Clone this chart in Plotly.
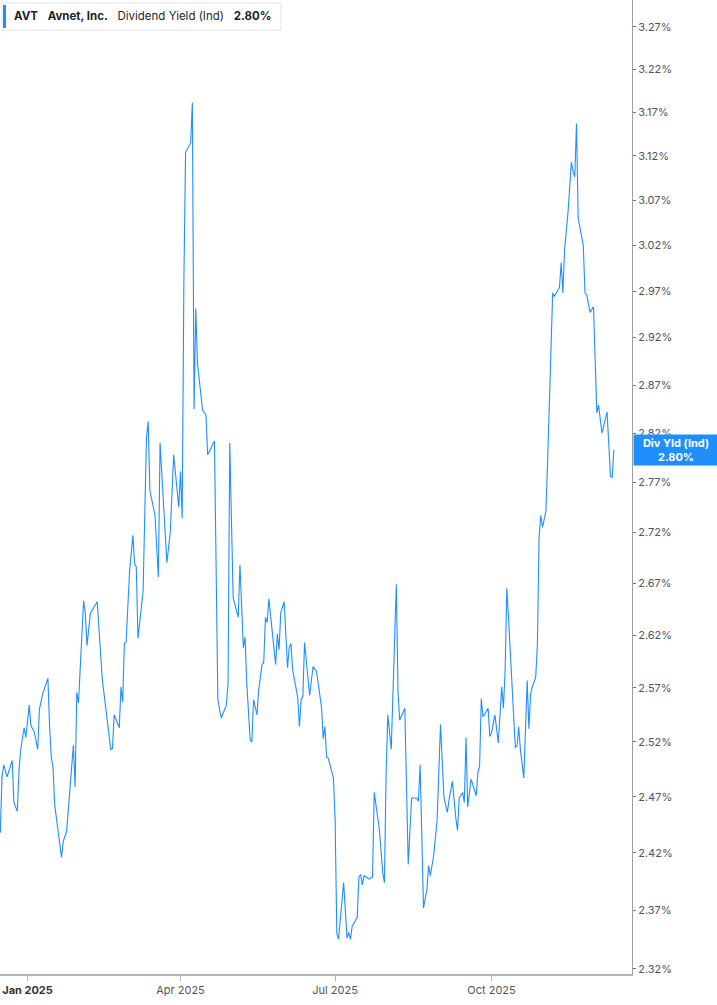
"""AVT dividend yield (indicated) line chart."""

import math
import plotly.graph_objects as go

# trading dates
dates = [
    # Dec 2024
    "2024-12-16", "2024-12-17", "2024-12-18", "2024-12-20", "2024-12-23",
    "2024-12-24", "2024-12-26", "2024-12-27", "2024-12-28", "2024-12-30",
    "2024-12-31",
    # Jan 2025
    "2025-01-02", "2025-01-03", "2025-01-05", "2025-01-07", "2025-01-08",
    "2025-01-10", "2025-01-13", "2025-01-14", "2025-01-15", "2025-01-16",
    "2025-01-17", "2025-01-21", "2025-01-22", "2025-01-24", "2025-01-26",
    "2025-01-28", "2025-01-29", "2025-01-30", "2025-01-31",
    # Feb
    "2025-02-03", "2025-02-04", "2025-02-05", "2025-02-07", "2025-02-11",
    "2025-02-14", "2025-02-17", "2025-02-19", "2025-02-20", "2025-02-21",
    "2025-02-24", "2025-02-25", "2025-02-26", "2025-02-27", "2025-02-28",
    # Mar
    "2025-03-02", "2025-03-04", "2025-03-05", "2025-03-06", "2025-03-07",
    "2025-03-10", "2025-03-12", "2025-03-13", "2025-03-14", "2025-03-17",
    "2025-03-19", "2025-03-20", "2025-03-24", "2025-03-26", "2025-03-28",
    "2025-03-31",
    # Apr
    "2025-04-01", "2025-04-02", "2025-04-03", "2025-04-04", "2025-04-07",
    "2025-04-08", "2025-04-09", "2025-04-10", "2025-04-11", "2025-04-14",
    "2025-04-16", "2025-04-17", "2025-04-21", "2025-04-23", "2025-04-25",
    "2025-04-28", "2025-04-29", "2025-04-30",
    # May
    "2025-05-02", "2025-05-05", "2025-05-06", "2025-05-08", "2025-05-09",
    "2025-05-10", "2025-05-12", "2025-05-13", "2025-05-14", "2025-05-16",
    "2025-05-17", "2025-05-19", "2025-05-20", "2025-05-21", "2025-05-22",
    "2025-05-23", "2025-05-25", "2025-05-27", "2025-05-28", "2025-05-29",
    "2025-05-30",
    # Jun
    "2025-06-01", "2025-06-03", "2025-06-04", "2025-06-05", "2025-06-06",
    "2025-06-09", "2025-06-10", "2025-06-11", "2025-06-12", "2025-06-13",
    "2025-06-16", "2025-06-18", "2025-06-20", "2025-06-23", "2025-06-24",
    "2025-06-25", "2025-06-26", "2025-06-27", "2025-06-30",
    # Jul
    "2025-07-01", "2025-07-02", "2025-07-03", "2025-07-06", "2025-07-08",
    "2025-07-09", "2025-07-10", "2025-07-11", "2025-07-14", "2025-07-15",
    "2025-07-16", "2025-07-17", "2025-07-18", "2025-07-21", "2025-07-23",
    "2025-07-24", "2025-07-27", "2025-07-29", "2025-07-30", "2025-07-31",
    # Aug
    "2025-08-01", "2025-08-03", "2025-08-06", "2025-08-07", "2025-08-08",
    "2025-08-11", "2025-08-13", "2025-08-15", "2025-08-18", "2025-08-19",
    "2025-08-20", "2025-08-22", "2025-08-24", "2025-08-25", "2025-08-26",
    "2025-08-28", "2025-08-30",
    # Sep
    "2025-09-01", "2025-09-03", "2025-09-05", "2025-09-06", "2025-09-08",
    "2025-09-10", "2025-09-11", "2025-09-12", "2025-09-14", "2025-09-15",
    "2025-09-16", "2025-09-17", "2025-09-19", "2025-09-22", "2025-09-23",
    "2025-09-24", "2025-09-25", "2025-09-26", "2025-09-29", "2025-09-30",
    # Oct
    "2025-10-01", "2025-10-03", "2025-10-05", "2025-10-07", "2025-10-08",
    "2025-10-09", "2025-10-10", "2025-10-11", "2025-10-12", "2025-10-13",
    "2025-10-15", "2025-10-16", "2025-10-17", "2025-10-18", "2025-10-20",
    "2025-10-22", "2025-10-23", "2025-10-24", "2025-10-25", "2025-10-27",
    "2025-10-28", "2025-10-29", "2025-10-30", "2025-10-31",
    # Nov
    "2025-11-02", "2025-11-03", "2025-11-05", "2025-11-06", "2025-11-07",
    "2025-11-10", "2025-11-11", "2025-11-12", "2025-11-13", "2025-11-15",
    "2025-11-17", "2025-11-18", "2025-11-19", "2025-11-20", "2025-11-21",
    "2025-11-24", "2025-11-25", "2025-11-26", "2025-11-28", "2025-11-30",
    # Dec
    "2025-12-02", "2025-12-03", "2025-12-05", "2025-12-08", "2025-12-10",
    "2025-12-11", "2025-12-12",
]

# dividend yield (%), same order as dates
div_yield = [
    # Dec 2024
    2.438, 2.488, 2.499, 2.488, 2.503,
    2.465, 2.457, 2.494, 2.513, 2.533,
    2.524,
    # Jan 2025
    2.554, 2.535, 2.529, 2.513, 2.550,
    2.565, 2.579, 2.534, 2.506, 2.497,
    2.463, 2.416, 2.430, 2.439, 2.479,
    2.517, 2.479, 2.566, 2.556,
    # Feb
    2.653, 2.641, 2.610, 2.641, 2.652,
    2.578, 2.540, 2.513, 2.514, 2.545,
    2.533, 2.571, 2.557, 2.612, 2.613,
    # Mar
    2.680, 2.717, 2.689, 2.686, 2.617,
    2.662, 2.815, 2.832, 2.762, 2.737,
    2.676, 2.810, 2.690, 2.720, 2.798,
    2.745,
    # Apr
    2.781, 2.734, 2.980, 3.124, 3.135,
    3.181, 2.845, 2.951, 2.893, 2.844,
    2.839, 2.798, 2.812, 2.559, 2.542,
    2.554, 2.575, 2.810,
    # May
    2.656, 2.637, 2.688, 2.608, 2.618,
    2.575, 2.522, 2.520, 2.559, 2.545,
    2.568, 2.592, 2.594, 2.637, 2.632,
    2.655, 2.622, 2.592, 2.621, 2.606,
    2.641,
    # Jun
    2.652, 2.589, 2.608, 2.612, 2.587,
    2.561, 2.534, 2.559, 2.562, 2.613,
    2.563, 2.590, 2.586, 2.552, 2.523,
    2.534, 2.506, 2.505, 2.487,
    # Jul
    2.449, 2.350, 2.345, 2.394, 2.346,
    2.351, 2.345, 2.356, 2.364, 2.399,
    2.401, 2.392, 2.400, 2.397, 2.399,
    2.474, 2.441, 2.403, 2.394, 2.492,
    # Aug
    2.545, 2.513, 2.669, 2.566, 2.540,
    2.551, 2.410, 2.469, 2.469, 2.466,
    2.499, 2.372, 2.388, 2.409, 2.400,
    2.418, 2.449,
    # Sep
    2.536, 2.470, 2.456, 2.467, 2.484,
    2.451, 2.440, 2.469, 2.474, 2.465,
    2.524, 2.461, 2.486, 2.471, 2.492,
    2.498, 2.560, 2.543, 2.551, 2.525,
    # Oct
    2.528, 2.545, 2.519, 2.571, 2.551,
    2.585, 2.665, 2.637, 2.609, 2.578,
    2.515, 2.516, 2.534, 2.513, 2.487,
    2.577, 2.532, 2.564, 2.571, 2.580,
    2.611, 2.715, 2.737, 2.725,
    # Nov
    2.741, 2.790, 2.917, 2.968, 2.964,
    2.974, 3.001, 2.968, 3.015, 3.056,
    3.113, 3.102, 3.096, 3.157, 3.050,
    3.020, 2.968, 2.966, 2.947, 2.953,
    # Dec
    2.841, 2.849, 2.820, 2.842, 2.776,
    2.775, 2.803,
]

y_ticks = [2.32, 2.37, 2.42, 2.47, 2.52, 2.57, 2.62, 2.67, 2.72, 2.77,
           2.82, 2.87, 2.92, 2.97, 3.02, 3.07, 3.12, 3.17, 3.22, 3.27]
x_ticks = ["2025-01-01", "2025-04-01", "2025-07-01", "2025-10-01"]
x_tick_labels = ["<span style='color:#333'><b>Jan 2025</b></span>",
                 "Apr 2025", "Jul 2025", "Oct 2025"]

LINE_BLUE = "#1f8fff"
W, H = 717, 1005
PLOT_W, PLOT_H = 632, 974  # plot area in px (left/top margins are 0)

fig = go.Figure()
fig.add_trace(go.Scatter(
    x=dates, y=div_yield, mode="lines",
    line=dict(color=LINE_BLUE, width=1.1),
    hoverinfo="skip", showlegend=False,
))


def px_x(p):
    return p / PLOT_W


def px_y(p):
    return 1 - p / PLOT_H


last = div_yield[-1]
gap = "\u00a0" * 3

fig.update_layout(
    width=W, height=H,
    margin=dict(l=0, r=W - PLOT_W, t=0, b=H - PLOT_H),
    paper_bgcolor="white", plot_bgcolor="white",
    font=dict(family="Inter, Roboto, sans-serif", size=11, color="#555555"),
    xaxis=dict(
        type="date",
        range=["2024-12-15 19:40", "2025-12-22 16:00"],
        tickvals=x_ticks, ticktext=x_tick_labels,
        showgrid=False, zeroline=False,
        showline=True, linecolor="#b3b3b3", linewidth=2,
        ticks="outside", ticklen=5, tickcolor="#b3b3b3", tickwidth=1,
        tickfont=dict(size=11, color="#555555"),
    ),
    yaxis=dict(
        type="log", side="right",
        range=[math.log10(2.3156), math.log10(3.3023)],
        tickvals=y_ticks, ticktext=[f"{v:.2f}%" for v in y_ticks],
        showgrid=False, zeroline=False,
        showline=True, linecolor="#9e9e9e", linewidth=1,
        ticks="outside", ticklen=3, tickcolor="#777777",
        tickfont=dict(size=11, color="#555555"),
    ),
    shapes=[
        # legend box + blue marker
        dict(type="rect", xref="paper", yref="paper",
             x0=px_x(2), x1=px_x(281), y0=px_y(30), y1=px_y(3),
             line=dict(color="#e3e3e3", width=1), fillcolor="white", layer="above"),
        dict(type="rect", xref="paper", yref="paper",
             x0=px_x(3), x1=px_x(6), y0=px_y(28), y1=px_y(5),
             line=dict(width=0), fillcolor=LINE_BLUE, layer="above"),
    ],
    annotations=[
        dict(xref="paper", yref="paper", x=px_x(12), y=px_y(16.5),
             xanchor="left", yanchor="middle", showarrow=False,
             text=("<b>AVT</b>" + gap + "<b>Avnet, Inc.</b>" + gap
                   + "Dividend Yield (Ind)" + gap + f"<b>{last:.2f}%</b>"),
             font=dict(size=11.5, color="#1f1f1f")),
        dict(xref="paper", yref="y", x=1, y=math.log10(last),
             xanchor="left", yanchor="middle", xshift=1, showarrow=False,
             text=f"<b>Div Yld (Ind)</b><br><b>{last:.2f}%</b>",
             width=80, height=26, borderpad=2, bgcolor=LINE_BLUE,
             font=dict(size=11, color="white"), align="center"),
    ],
)

# page has no body margin in the reference, and no modebar
fig.write_html("out.html", config={"displayModeBar": False},
               post_script="document.body.style.margin='0';")
